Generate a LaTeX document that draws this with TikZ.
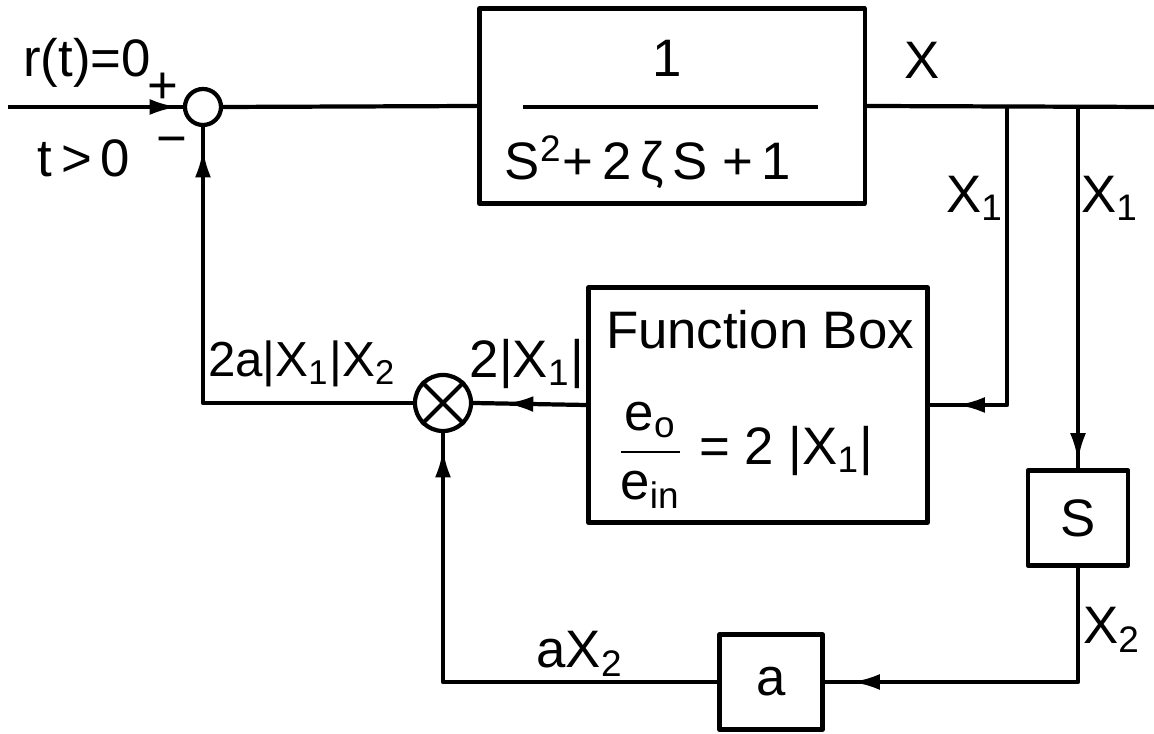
\documentclass[tikz,border=0pt]{standalone}
\usepackage{amsmath}
\usepackage{fontspec}
\setmainfont{Liberation Sans}
\usetikzlibrary{arrows.meta, decorations.markings}

\begin{document}
\begin{tikzpicture}[x=0.01cm, y=-0.01cm, line width=1.2pt, line join=round,
  font=\fontsize{15}{17}\selectfont,
  blk/.style={draw, rectangle, inner sep=0pt},
  junc/.style={draw, circle, inner sep=0pt},
  tipat/.style={postaction={decorate}, decoration={markings,
    mark=at position #1 with {\arrow{Latex[length=8pt,width=4.5pt]}}}}]
\useasboundingbox (0,0) rectangle (1154,734);
\node[junc, minimum size=0.36cm] (sum) at (203,107) {};
\node[blk, minimum width=3.85cm, minimum height=1.95cm] (plant) at (672,106) {};
\node[blk, minimum width=3.39cm, minimum height=2.35cm] (fbox) at (758,405) {};
\node[junc, minimum size=0.56cm] (mult) at (443,403) {};
\node[blk, minimum width=1.00cm, minimum height=0.95cm] (sbox) at (1078,518) {S};
\node[blk, minimum width=1.03cm, minimum height=0.95cm] (abox) at (771,682) {a};
\coordinate (in) at (8,107);
\coordinate (out) at (1154,107);
\coordinate (tap1) at (1007,107);
\coordinate (tap2) at (1078,107);
\draw[tipat=-0.05cm] (in) -- (sum.west);
\draw (sum.east) -- (plant.west);
\draw (plant.east) -- (out);
\draw[tipat=-0.27cm] (tap1) |- (fbox.east);
\draw[tipat=-0.07cm] (tap2) -- (sbox.north);
\draw[tipat=-0.27cm] (sbox.south) |- (abox.east);
\draw[tipat=-0.16cm] (abox.west) -| (mult.south);
\draw[tipat=-0.32cm] (fbox.west) -- (mult.east);
\draw[tipat=-0.22cm] (mult.west) -| (sum.south);
\draw (mult.north west) -- (mult.south east) (mult.north east) -- (mult.south west);
\draw (523,107) -- (818,107);
\node (rt) at (87,63) {r(t)=0};
\node (plus) at (163,88) {+};
\node (tgt) at (84,158) {t\,>\,0};
\node (minus) at (172,147) {−};
\node (num) at (667,58) {1};
\node (den) at (648,162) {S\textsuperscript{2}+\,2\,ζ\,S +\,1};
\node (xout) at (922,60) {X};
\node (x1a) at (975,198) {X\textsubscript{1}};
\node (x1b) at (1110,198) {X\textsubscript{1}};
\node (x2) at (1112,630) {X\textsubscript{2}};
\node (ax2) at (580,654) {aX\textsubscript{2}};
\node[font=\fontsize{14}{16}\selectfont] (prod) at (302,364) {2a|X\textsubscript{1}|X\textsubscript{2}};
\node (gain) at (527,364) {2|X\textsubscript{1}|};
\node (ftitle) at (760,330) {Function Box};
\node (ratio) at (745,455) {$\dfrac{\text{e}_{\text{o}}}{\text{e}_{\text{in}}}$ = 2 |X\textsubscript{1}|};
\end{tikzpicture}
\end{document}
